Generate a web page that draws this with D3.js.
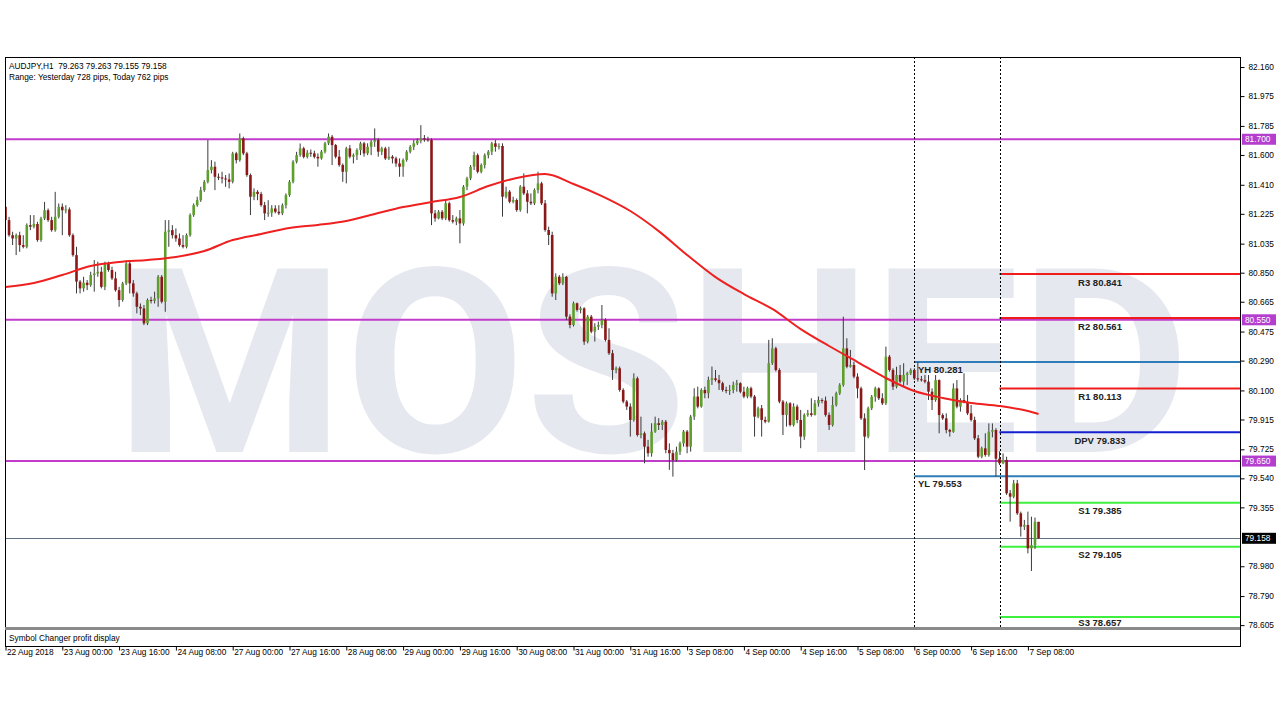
<!DOCTYPE html>
<html><head><meta charset="utf-8">
<script src="https://cdn.jsdelivr.net/npm/d3@7"></script>
<style>html,body{margin:0;padding:0;background:#fff;} svg{display:block;}</style>
</head><body>
<svg id="c" width="1280" height="720"></svg>
<script>
// ---------- DATA (AUDJPY H1, bar 0 = 22 Aug 2018 08:00) ----------
const openP=[
81.270,81.185,81.089,81.068,81.089,81.026,81.015,81.153,81.143,81.160,
81.058,81.195,81.248,81.185,81.121,81.206,81.270,81.248,81.253,81.089,
80.962,80.793,80.750,80.786,80.771,80.835,80.845,80.856,80.760,80.909,
80.867,80.814,80.739,80.676,80.782,80.909,80.782,80.718,80.633,80.622,
80.527,80.676,80.671,80.686,80.824,80.665,81.111,81.121,81.089,81.068,
81.026,81.015,81.089,81.217,81.280,81.312,81.376,81.429,81.504,81.525,
81.461,81.457,81.450,81.444,81.429,81.610,81.567,81.705,81.610,81.472,
81.334,81.365,81.351,81.280,81.228,81.232,81.259,81.238,81.228,81.280,
81.344,81.429,81.557,81.599,81.642,81.588,81.614,81.610,81.588,81.578,
81.621,81.674,81.716,81.663,81.589,81.536,81.493,81.642,81.589,81.599,
81.631,81.674,81.610,81.652,81.684,81.695,81.621,81.642,81.578,81.589,
81.578,81.546,81.525,81.568,81.621,81.652,81.674,81.691,81.706,81.699,
81.695,81.228,81.196,81.238,81.196,81.292,81.185,81.175,81.196,81.164,
81.398,81.451,81.525,81.599,81.493,81.536,81.599,81.621,81.674,81.652,
81.657,81.334,81.366,81.302,81.313,81.249,81.398,81.355,81.302,81.292,
81.376,81.419,81.292,81.122,81.090,80.718,80.824,80.782,80.824,80.570,
80.517,80.655,80.613,80.623,80.411,80.570,80.475,80.506,80.517,80.549,
80.422,80.337,80.230,80.241,80.103,80.029,79.997,79.912,80.177,79.816,
79.827,79.742,79.700,79.838,79.891,79.880,79.901,79.721,79.700,79.657,
79.710,79.763,79.838,79.742,79.933,80.061,79.997,80.103,80.082,80.167,
80.177,80.167,80.146,80.103,80.099,80.103,80.135,80.146,80.092,80.061,
80.114,80.061,79.933,79.986,79.912,79.901,80.273,80.368,80.230,80.029,
79.944,80.018,79.880,79.997,79.912,79.806,79.944,79.954,79.944,80.018,
80.039,80.035,79.944,79.880,80.007,80.082,80.135,80.368,80.251,80.262,
80.188,80.113,79.922,79.806,79.986,80.060,80.113,80.050,80.018,80.315,
80.230,80.124,80.198,80.156,80.198,80.209,80.230,80.177,80.171,80.166,
80.156,80.092,80.039,80.166,79.943,79.922,79.848,79.837,80.113,79.997,
80.039,80.028,79.954,79.912,79.795,79.678,79.731,79.689,79.837,79.848,
79.665,79.636,79.657,79.445,79.423,79.508,79.317,79.232,79.243,79.094,
79.115,79.263];
const highP=[
81.280,81.206,81.111,81.100,81.111,81.089,81.164,81.217,81.217,81.174,
81.206,81.301,81.259,81.206,81.365,81.291,81.291,81.280,81.266,81.100,
81.015,80.803,80.824,80.803,80.856,80.930,80.920,80.888,80.920,80.920,
80.888,80.856,80.760,80.792,80.920,80.920,80.803,80.729,80.654,80.644,
80.686,80.697,80.729,80.835,80.835,81.185,81.185,81.153,81.132,81.100,
81.089,81.100,81.228,81.291,81.334,81.397,81.440,81.695,81.567,81.557,
81.482,81.493,81.472,81.482,81.620,81.620,81.737,81.716,81.620,81.482,
81.387,81.376,81.365,81.301,81.312,81.280,81.280,81.280,81.291,81.355,
81.440,81.567,81.620,81.673,81.652,81.631,81.635,81.627,81.610,81.631,
81.684,81.737,81.727,81.670,81.631,81.546,81.652,81.663,81.610,81.642,
81.684,81.684,81.674,81.695,81.769,81.706,81.652,81.652,81.652,81.599,
81.589,81.578,81.578,81.631,81.663,81.695,81.706,81.790,81.727,81.716,
81.706,81.249,81.249,81.249,81.313,81.302,81.217,81.207,81.249,81.408,
81.461,81.536,81.621,81.610,81.546,81.610,81.631,81.684,81.695,81.674,
81.674,81.398,81.376,81.334,81.323,81.408,81.483,81.376,81.355,81.387,
81.493,81.429,81.313,81.143,81.111,80.846,80.835,80.846,80.830,80.585,
80.666,80.660,80.634,80.630,80.581,80.581,80.528,80.538,80.644,80.560,
80.496,80.358,80.252,80.252,80.114,80.039,80.018,80.209,80.188,79.933,
79.838,79.785,79.891,79.933,79.923,79.912,79.912,79.763,79.721,79.742,
79.774,79.848,79.848,79.944,80.114,80.124,80.114,80.124,80.188,80.252,
80.230,80.199,80.156,80.124,80.135,80.156,80.167,80.152,80.124,80.124,
80.124,80.071,79.997,80.007,79.933,80.422,80.432,80.379,80.241,80.039,
80.029,80.025,80.018,80.010,79.976,79.954,79.976,80.050,80.039,80.061,
80.050,80.061,79.960,80.061,80.092,80.146,80.570,80.432,80.358,80.283,
80.209,80.124,79.954,79.997,80.071,80.124,80.120,80.082,80.379,80.326,
80.241,80.251,80.262,80.273,80.219,80.241,80.241,80.281,80.192,80.198,
80.198,80.113,80.198,80.170,79.954,79.954,79.855,80.145,80.166,80.050,
80.209,80.071,80.007,79.933,79.816,79.742,79.827,79.890,79.890,79.860,
79.712,79.699,79.678,79.466,79.530,79.530,79.328,79.275,79.328,79.296,
79.290,79.263];
const lowP=[
81.174,81.079,81.026,80.962,80.983,81.005,81.005,81.121,81.132,81.047,
81.047,81.185,81.174,81.111,81.111,81.195,81.089,81.228,81.079,80.952,
80.718,80.718,80.729,80.739,80.760,80.729,80.824,80.750,80.739,80.856,
80.803,80.729,80.633,80.665,80.771,80.718,80.697,80.591,80.580,80.516,
80.516,80.654,80.654,80.633,80.654,80.601,81.015,81.068,81.047,81.015,
81.005,81.005,81.079,81.206,81.270,81.301,81.365,81.419,81.482,81.376,
81.440,81.419,81.397,81.387,81.419,81.546,81.557,81.599,81.461,81.217,
81.312,81.312,81.270,81.185,81.206,81.206,81.228,81.217,81.217,81.259,
81.334,81.419,81.546,81.588,81.578,81.578,81.588,81.578,81.525,81.570,
81.610,81.663,81.536,81.578,81.525,81.429,81.419,81.578,81.546,81.568,
81.599,81.589,81.599,81.599,81.652,81.589,81.599,81.568,81.568,81.546,
81.525,81.461,81.461,81.557,81.610,81.631,81.663,81.674,81.684,81.684,
81.153,81.175,81.190,81.185,81.185,81.175,81.164,81.153,81.037,81.150,
81.376,81.440,81.504,81.483,81.483,81.514,81.578,81.599,81.621,81.635,
81.207,81.323,81.292,81.292,81.238,81.238,81.345,81.228,81.281,81.281,
81.355,81.281,81.111,81.026,80.697,80.676,80.771,80.771,80.549,80.496,
80.507,80.602,80.591,80.390,80.400,80.464,80.411,80.485,80.496,80.411,
80.326,80.167,80.209,80.092,80.018,79.976,79.806,79.901,79.806,79.795,
79.636,79.678,79.678,79.830,79.848,79.848,79.700,79.594,79.551,79.647,
79.689,79.742,79.700,79.710,79.912,79.986,79.990,80.050,80.050,80.135,
80.156,80.103,80.092,80.082,80.071,80.082,80.092,80.082,80.050,80.050,
80.050,79.806,79.923,79.806,79.891,79.895,80.262,80.220,80.018,79.816,
79.870,79.870,79.870,79.891,79.732,79.785,79.933,79.933,79.940,79.997,
80.018,79.933,79.848,79.870,79.997,80.071,80.124,80.241,80.245,80.177,
80.050,79.912,79.593,79.795,79.975,80.028,80.039,80.007,80.007,80.219,
80.103,80.113,80.145,80.124,80.135,80.198,80.166,80.156,80.156,80.145,
80.039,79.975,80.028,79.827,79.912,79.827,79.806,79.830,79.986,79.965,
80.018,79.943,79.901,79.784,79.668,79.668,79.678,79.678,79.801,79.553,
79.625,79.630,79.434,79.264,79.413,79.307,79.169,79.211,79.062,78.950,
79.090,79.155];
const closeP=[
81.185,81.089,81.068,81.089,81.026,81.015,81.153,81.143,81.160,81.058,
81.195,81.248,81.185,81.121,81.206,81.270,81.248,81.253,81.089,80.962,
80.793,80.750,80.786,80.771,80.835,80.845,80.856,80.760,80.909,80.867,
80.814,80.739,80.676,80.782,80.909,80.782,80.718,80.633,80.622,80.527,
80.676,80.671,80.686,80.824,80.665,81.111,81.121,81.089,81.068,81.026,
81.015,81.089,81.217,81.280,81.312,81.376,81.429,81.504,81.525,81.461,
81.457,81.450,81.444,81.429,81.610,81.567,81.705,81.610,81.472,81.334,
81.365,81.351,81.280,81.228,81.232,81.259,81.238,81.228,81.280,81.344,
81.429,81.557,81.599,81.642,81.588,81.614,81.610,81.588,81.578,81.621,
81.674,81.716,81.663,81.589,81.536,81.493,81.642,81.589,81.599,81.631,
81.674,81.610,81.652,81.684,81.695,81.621,81.642,81.578,81.589,81.578,
81.546,81.525,81.568,81.621,81.652,81.674,81.691,81.706,81.699,81.695,
81.228,81.196,81.238,81.196,81.292,81.185,81.175,81.196,81.164,81.398,
81.451,81.525,81.599,81.493,81.536,81.599,81.621,81.674,81.652,81.657,
81.334,81.366,81.302,81.313,81.249,81.398,81.355,81.302,81.292,81.376,
81.419,81.292,81.122,81.090,80.718,80.824,80.782,80.824,80.570,80.517,
80.655,80.613,80.623,80.411,80.570,80.475,80.506,80.517,80.549,80.422,
80.337,80.230,80.241,80.103,80.029,79.997,79.912,80.177,79.816,79.827,
79.742,79.700,79.838,79.891,79.880,79.901,79.721,79.700,79.657,79.710,
79.763,79.838,79.742,79.933,80.061,79.997,80.103,80.082,80.167,80.177,
80.167,80.146,80.103,80.099,80.103,80.135,80.146,80.092,80.061,80.114,
80.061,79.933,79.986,79.912,79.901,80.273,80.368,80.230,80.029,79.944,
80.018,79.880,79.997,79.912,79.806,79.944,79.954,79.944,80.018,80.039,
80.035,79.944,79.880,80.007,80.082,80.135,80.368,80.251,80.262,80.188,
80.113,79.922,79.806,79.986,80.060,80.113,80.050,80.018,80.315,80.230,
80.124,80.198,80.156,80.198,80.209,80.230,80.177,80.171,80.166,80.156,
80.092,80.039,80.166,79.943,79.922,79.848,79.837,80.113,79.997,80.039,
80.028,79.954,79.912,79.795,79.678,79.731,79.689,79.837,79.848,79.665,
79.636,79.657,79.445,79.423,79.508,79.317,79.232,79.243,79.094,79.115,
79.263,79.158];

// moving average (red line), read at every 8th bar
const maIdx=[0,8,16,24,32,40,48,56,64,72,80,88,96,104,112,120,128,136,144,152,160,168,176,184,192,200,208,216,224,232,240,248,256,264,272,280,288,291];
const maVal=[80.759,80.784,80.835,80.892,80.918,80.931,80.950,80.988,81.058,81.096,81.135,81.154,81.179,81.224,81.268,81.300,81.332,81.402,81.453,81.478,81.415,81.338,81.243,81.115,80.963,80.822,80.714,80.619,80.491,80.383,80.281,80.179,80.096,80.052,80.020,80.001,79.969,79.950];

const timeTickIdx=[0,16,32,48,64,80,96,112,128,144,160,176,192,208,224,240,256,272,288];
const timeLabels=["22 Aug 2018","23 Aug 00:00","23 Aug 16:00","24 Aug 08:00","27 Aug 00:00","27 Aug 16:00","28 Aug 08:00","29 Aug 00:00","29 Aug 16:00","30 Aug 08:00","31 Aug 00:00","31 Aug 16:00","3 Sep 08:00","4 Sep 00:00","4 Sep 16:00","5 Sep 08:00","6 Sep 00:00","6 Sep 16:00","7 Sep 08:00"];
const priceTicks=[82.160,81.975,81.785,81.600,81.410,81.225,81.035,80.850,80.665,80.475,80.290,80.100,79.915,79.725,79.540,79.355,78.980,78.790,78.605];
const keyLevels=[81.700,80.550,79.650];
const pivotNames=["R3","R2","R1","DPV","S1","S2","S3"];
const pivotValues=[80.841,80.561,80.113,79.833,79.385,79.105,78.657];
const yNames=["YH","YL"];
const yValues=[80.281,79.553];
const dayStartIdx=[256,280];
const lastPrice=79.158;
const headerLines=["AUDJPY,H1  79.263 79.263 79.155 79.158","Range: Yesterday 728 pips, Today 762 pips"];
const subWindowTitle="Symbol Changer profit display";
const watermark="MOSHED";

// ---------- LAYOUT ----------
const L=5,R=1240,T=57,B=627,SB=646;
const FONT="'Liberation Sans', Arial, sans-serif";
const svg=d3.select("#c");
const n=closeP.length;
const x=d3.scaleLinear().domain([0,n-1]).range([5.5,5.5+(n-1)*3.55]);
const y=d3.scaleLinear().domain([78.593,82.224]).range([B,T]);
const bars=d3.range(n).map(i=>({i,o:openP[i],h:highP[i],l:lowP[i],c:closeP[i]}));

svg.append("rect").attr("width",1280).attr("height",720).attr("fill","#fff");

const plot=svg.append("g");
plot.append("clipPath").attr("id","clipMain").append("rect").attr("x",L).attr("y",T).attr("width",R-L).attr("height",B-T);
const g=plot.append("g").attr("clip-path","url(#clipMain)");

// watermark
g.append("text").attr("x",115).attr("y",452).attr("textLength",1075).attr("lengthAdjust","spacingAndGlyphs")
 .attr("font-family","Roboto, 'Liberation Sans', sans-serif").attr("font-weight",700).attr("font-size",258)
 .attr("fill","#e5e8ef").text(watermark);

// key magenta levels
g.selectAll(".key").data(keyLevels).enter().append("line")
 .attr("x1",L).attr("x2",R).attr("y1",d=>y(d)).attr("y2",d=>y(d))
 .attr("stroke","#c23ccc").attr("stroke-width",2);

// current price line
g.append("line").attr("x1",L).attr("x2",R).attr("y1",Math.round(y(lastPrice))+0.5).attr("y2",Math.round(y(lastPrice))+0.5)
 .attr("stroke","#5f7384").attr("stroke-width",1);

// yesterday high/low
g.selectAll(".yl").data(yValues).enter().append("line")
 .attr("x1",x(dayStartIdx[0])).attr("x2",R).attr("y1",d=>y(d)).attr("y2",d=>y(d))
 .attr("stroke","#2f7db8").attr("stroke-width",2);

// pivots
const pivColor=nm=>nm.startsWith("R")?"#f01c1c":(nm==="DPV"?"#1420d0":"#3ef03e");
g.selectAll(".piv").data(pivotValues).enter().append("line")
 .attr("x1",x(dayStartIdx[1])).attr("x2",R).attr("y1",d=>y(d)).attr("y2",d=>y(d))
 .attr("stroke",(d,i)=>pivColor(pivotNames[i])).attr("stroke-width",2);

// day separators
g.selectAll(".sep").data(dayStartIdx).enter().append("line")
 .attr("x1",d=>Math.round(x(d))+0.5).attr("x2",d=>Math.round(x(d))+0.5).attr("y1",T).attr("y2",B)
 .attr("stroke","#000").attr("stroke-width",1).attr("stroke-dasharray","2,2");

// candles
const cg=g.append("g");
cg.selectAll(".wick").data(bars).enter().append("line")
 .attr("x1",d=>x(d.i)).attr("x2",d=>x(d.i)).attr("y1",d=>y(d.h)).attr("y2",d=>y(d.l))
 .attr("stroke","#3a3a3a").attr("stroke-width",1);
cg.selectAll(".body").data(bars).enter().append("rect")
 .attr("x",d=>x(d.i)-1.3).attr("width",2.6)
 .attr("y",d=>y(Math.max(d.o,d.c)))
 .attr("height",d=>Math.max(1,Math.abs(y(d.o)-y(d.c))))
 .attr("fill",d=>d.c>d.o?"#5e9e2c":(d.c<d.o?"#8a1818":"#444"));

// moving average
g.append("path").datum(maIdx.map((d,k)=>[d,maVal[k]]))
 .attr("d",d3.line().x(d=>x(d[0])).y(d=>y(d[1])).curve(d3.curveMonotoneX))
 .attr("fill","none").attr("stroke","#ee2020").attr("stroke-width",2);

// pivot labels
g.selectAll(".pl").data(pivotValues).enter().append("text")
 .attr("x",1100).attr("y",d=>Math.min(y(d)+11.5,B-1.5)).attr("text-anchor","middle")
 .attr("font-family",FONT).attr("font-weight",700).attr("font-size",9.5).attr("fill","#222")
 .text((d,i)=>pivotNames[i]+" "+d.toFixed(3));
g.selectAll(".yt").data(yValues).enter().append("text")
 .attr("x",918).attr("y",d=>y(d)+11).attr("font-family",FONT).attr("font-weight",700).attr("font-size",9.5).attr("fill","#222")
 .text((d,i)=>yNames[i]+" "+d.toFixed(3));

// header text
g.selectAll(".hd").data(headerLines).enter().append("text")
 .attr("x",9).attr("y",(d,i)=>69+i*11).attr("font-family",FONT).attr("font-size",8.3).attr("fill","#000")
 .style("white-space","pre").text(d=>d);

// frame
svg.append("rect").attr("x",L+0.5).attr("y",T+0.5).attr("width",R-L).attr("height",SB-T).attr("fill","none").attr("stroke","#000").attr("stroke-width",1);
svg.append("line").attr("x1",L).attr("x2",R).attr("y1",B+1.5).attr("y2",B+1.5).attr("stroke","#8a8a8a").attr("stroke-width",3);
svg.append("text").attr("x",9).attr("y",641).attr("font-family",FONT).attr("font-size",8.3).attr("fill","#000").text(subWindowTitle);

// price axis
const ya=svg.append("g").attr("transform",`translate(${R+0.5},0)`)
 .call(d3.axisRight(y).tickValues(priceTicks).tickSize(4).tickPadding(4).tickFormat(d3.format(".3f")));
ya.select(".domain").remove();
ya.selectAll("text").attr("font-family",FONT).attr("font-size",8.3).attr("fill","#000");
ya.selectAll("line").attr("stroke","#000");

// level tags on the price axis
const tags=keyLevels.map(v=>({v,bg:"#b43fcf"})).concat([{v:lastPrice,bg:"#000"}]);
const tg=svg.append("g").selectAll("g").data(tags).enter().append("g");
tg.append("rect").attr("x",R+2).attr("y",d=>y(d.v)-5.5).attr("width",34).attr("height",11).attr("fill",d=>d.bg);
tg.append("text").attr("x",R+5).attr("y",d=>y(d.v)+3).attr("font-family",FONT).attr("font-size",8.3).attr("fill","#fff").text(d=>d.v.toFixed(3));

// time axis
const xa=svg.append("g").attr("transform",`translate(0,${SB+0.5})`)
 .call(d3.axisBottom(x).tickValues(timeTickIdx).tickSize(4).tickFormat((d,i)=>timeLabels[i]));
xa.select(".domain").remove();
xa.selectAll("line").attr("stroke","#000");
xa.selectAll("text").attr("text-anchor","start").attr("dx",1).attr("dy","0.2em")
 .attr("font-family",FONT).attr("font-size",8.3).attr("fill","#000");
</script>
</body></html>
